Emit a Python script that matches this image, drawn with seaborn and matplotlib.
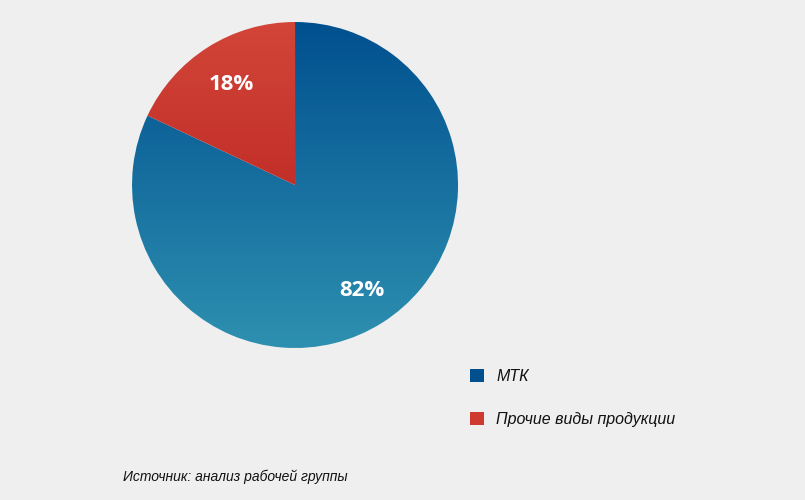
import numpy as np
import matplotlib
matplotlib.use('Agg')
import matplotlib.pyplot as plt
from matplotlib.patches import Patch
from matplotlib.colors import LinearSegmentedColormap
import seaborn as sns

# данные
labels = ['МТК', 'Прочие виды продукции']
shares = [82, 18]
pct_labels = ['82%', '18%']
source = 'Источник: анализ рабочей группы'

bg = '#efefef'
blue_top, blue_bot = '#00508f', '#2e90b0'
red_top, red_mid = '#d24538', '#c22f29'

sns.set_theme(style='white')
plt.rcParams['font.family'] = ['Liberation Sans', 'DejaVu Sans']

fig = plt.figure(figsize=(8.05, 5.0), dpi=100, facecolor=bg)
ax = fig.add_axes([0.164, 0.304, 0.405, 0.652])
ax.set_facecolor(bg)

wedges, _ = ax.pie(shares, startangle=90, counterclock=False, radius=1,
                   wedgeprops=dict(linewidth=0))

# градиентная заливка секторов
grad = np.linspace(0, 1, 256).reshape(-1, 1)
cmaps = [LinearSegmentedColormap.from_list('b', [blue_top, blue_bot]),
         LinearSegmentedColormap.from_list('r', [red_top, red_mid, red_mid])]
for w, cm in zip(wedges, cmaps):
    w.set_alpha(0)
    im = ax.imshow(grad, cmap=cm, extent=[-1, 1, -1, 1], aspect='auto',
                   origin='upper', zorder=2)
    im.set_clip_path(w)

ax.set_xlim(-1, 1)
ax.set_ylim(-1, 1)
ax.set_aspect('equal')
ax.axis('off')

# подписи процентов (маленький сектор - чуть ближе к центру)
for w, t in zip(wedges, pct_labels):
    ang = np.deg2rad((w.theta1 + w.theta2) / 2)
    r = 0.77 if (w.theta2 - w.theta1) > 180 else 0.73
    ax.text(r * np.cos(ang), r * np.sin(ang), t, color='white',
            fontsize=16, fontweight='bold', family=['Open Sans', 'DejaVu Sans'],
            ha='center', va='center', zorder=3)

handles = [Patch(facecolor=blue_top, edgecolor='none'),
           Patch(facecolor='#cf3a30', edgecolor='none')]
fig.legend(handles, labels, loc='upper left', bbox_to_anchor=(0.58, 0.268),
           frameon=False, prop=dict(style='italic', size=11.5),
           handlelength=0.85, handleheight=0.85, handletextpad=0.8,
           labelspacing=1.75, labelcolor='#111111', borderaxespad=0,
           borderpad=0.2)

fig.text(0.153, 0.046, source, fontsize=10, style='italic', color='#111111',
         ha='left', va='center')

fig.savefig('out.png', dpi=100, facecolor=bg)
